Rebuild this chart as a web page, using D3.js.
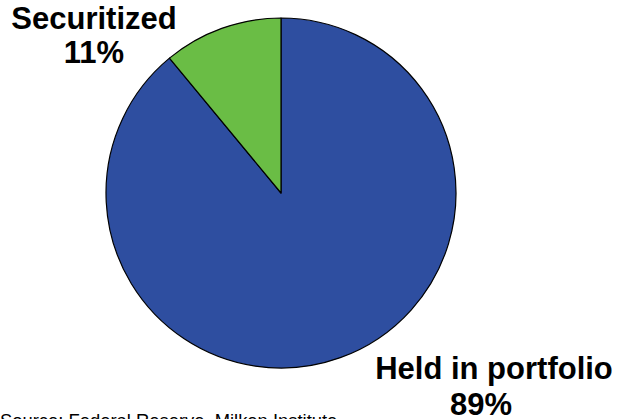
<!DOCTYPE html>
<html>
<head>
<meta charset="utf-8">
<script src="https://cdn.jsdelivr.net/npm/d3@7"></script>
<style>
  html, body { margin: 0; padding: 0; background: #ffffff; }
  svg { display: block; }
  text { font-family: "Liberation Sans", Arial, Helvetica, sans-serif; }
</style>
</head>
<body>
<div id="chart"></div>
<script>
// Mortgage holdings split
const categories = ["Held in portfolio", "Securitized"];
const shares = [89, 11];
const colors = ["#2e4ea0", "#6abd45"];
const sourceNote = "Source: Federal Reserve, Milken Institute";

const width = 623, height = 419;
const cx = 281, cy = 193, radius = 175;

const svg = d3.select("#chart").append("svg")
  .attr("width", width)
  .attr("height", height);

const data = categories.map((c, i) => ({ name: c, value: shares[i], color: colors[i] }));

// Start at 12 o'clock; portfolio runs clockwise, securitized fills the rest
const pie = d3.pie()
  .value(d => d.value)
  .sort(null)
  .startAngle(0)
  .endAngle(2 * Math.PI);

const arc = d3.arc().innerRadius(0).outerRadius(radius);

const g = svg.append("g").attr("transform", `translate(${cx},${cy})`);

g.selectAll("path")
  .data(pie(data))
  .join("path")
  .attr("d", arc)
  .attr("fill", d => d.data.color)
  .attr("stroke", "#000")
  .attr("stroke-width", 1.2)
  .attr("stroke-linejoin", "round");

// Slice labels: name on one line, share underneath
const labelPos = {
  "Securitized": { x: 94, y: 29 },
  "Held in portfolio": { x: 494, y: 379 }
};
const pctPos = {
  "Securitized": { x: 94, y: 63 },
  "Held in portfolio": { x: 481, y: 415 }
};

data.forEach(d => {
  svg.append("text")
    .attr("x", labelPos[d.name].x)
    .attr("y", labelPos[d.name].y)
    .attr("text-anchor", "middle")
    .attr("font-size", 31)
    .attr("font-weight", "bold")
    .attr("fill", "#000")
    .text(d.name);
  svg.append("text")
    .attr("x", pctPos[d.name].x)
    .attr("y", pctPos[d.name].y)
    .attr("text-anchor", "middle")
    .attr("font-size", 31)
    .attr("font-weight", "bold")
    .attr("fill", "#000")
    .text(d.value + "%");
});

svg.append("text")
  .attr("x", 0)
  .attr("y", 427)
  .attr("font-size", 18.4)
  .attr("fill", "#000")
  .text(sourceNote);
</script>
</body>
</html>
